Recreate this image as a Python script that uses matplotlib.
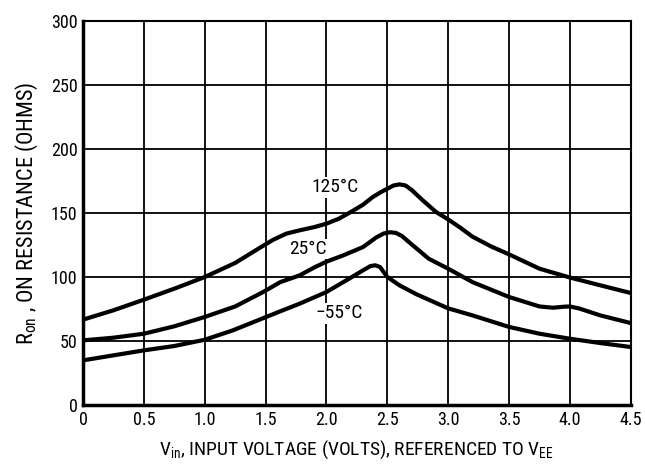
import matplotlib
matplotlib.use("Agg")
import matplotlib.pyplot as plt

# readings from the reference chart
x_125 = [0, 0.25, 0.5, 0.75, 1.0, 1.25, 1.45, 1.56, 1.67, 1.78, 1.9, 2.0, 2.1, 2.2,
         2.3, 2.38, 2.45, 2.5, 2.55, 2.6, 2.65, 2.7, 2.79, 2.9, 3.0, 3.1, 3.2, 3.35,
         3.5, 3.75, 4.0, 4.25, 4.5]
r_125 = [66.7, 74, 82.3, 90.9, 100, 111, 122.7, 129, 133.9, 136.5, 139, 141.7, 145.5,
         150.8, 156.5, 162.5, 166.5, 169, 171.5, 172.4, 171.5, 168, 160, 150.8, 145,
         138.5, 131.5, 124, 117.7, 106.5, 99.6, 93.5, 87.5]

x_25 = [0, 0.25, 0.5, 0.75, 1.0, 1.25, 1.48, 1.62, 1.78, 1.9, 2.0, 2.14, 2.3, 2.41,
        2.47, 2.52, 2.57, 2.62, 2.71, 2.84, 3.0, 3.2, 3.5, 3.75, 3.86, 3.95, 4.0,
        4.08, 4.25, 4.5]
r_25 = [50.5, 52.6, 55.7, 61.5, 68.8, 77, 88.3, 96, 101.3, 107.5, 112, 117, 123.4, 131,
        134, 135, 134.5, 132, 124.7, 114.3, 106.5, 96, 84.4, 77, 76, 76.8, 77,
        75.3, 70, 64]

x_m55 = [0, 0.25, 0.5, 0.75, 1.0, 1.23, 1.45, 1.62, 1.78, 2.0, 2.2, 2.3, 2.36, 2.4,
         2.44, 2.5, 2.6, 2.74, 2.87, 3.0, 3.2, 3.5, 3.75, 4.0, 4.25, 4.5]
r_m55 = [34.9, 38.8, 42.7, 46.1, 51, 58.3, 66.7, 73.2, 79.2, 88.3, 99.5, 105.2, 108.5,
         109.2, 107.8, 100, 93.5, 86.5, 81, 75.5, 70, 61, 55.7, 51.8, 48.4, 45.3]

curve_labels = ["125°C", "25°C", "\u221255°C"]
label_pos = [(2.07, 170), (1.85, 122), (2.1, 71.5)]

x_ticks = [0, 0.5, 1.0, 1.5, 2.0, 2.5, 3.0, 3.5, 4.0, 4.5]
x_tick_labels = ["0", "0.5", "1.0", "1.5", "2.0", "2.5", "3.0", "3.5", "4.0", "4.5"]
y_ticks = [0, 50, 100, 150, 200, 250, 300]

plt.rcParams['font.family'] = ['Roboto Condensed', 'DejaVu Sans']
plt.rcParams['mathtext.fontset'] = 'custom'
plt.rcParams['mathtext.rm'] = 'Roboto Condensed'
plt.rcParams['mathtext.it'] = 'Roboto Condensed'

fig = plt.figure(figsize=(6.45, 4.68), dpi=100)
ax = fig.add_axes([0.1287, 0.1346, 0.978 - 0.1287, 0.955 - 0.1346])

for xs, ys in [(x_125, r_125), (x_25, r_25), (x_m55, r_m55)]:
    ax.plot(xs, ys, color='black', lw=3.0, solid_joinstyle='round',
            solid_capstyle='butt', zorder=3)

for txt, (tx, ty) in zip(curve_labels, label_pos):
    ax.text(tx, ty, txt, ha='center', va='center', fontsize=14, zorder=4,
            bbox=dict(facecolor='white', edgecolor='none', pad=1))

ax.set_xlim(0, 4.5)
ax.set_ylim(0, 300)
ax.set_xticks(x_ticks)
ax.set_xticklabels(x_tick_labels)
ax.set_yticks(y_ticks)
ax.tick_params(length=0, labelsize=13, pad=4)
ax.grid(True, color='black', lw=1.3)
ax.set_axisbelow(True)

for side in ['top', 'right']:
    ax.spines[side].set_linewidth(1.5)
for side in ['left', 'bottom']:
    ax.spines[side].set_linewidth(2.5)

ax.set_xlabel(r'V$_{\mathrm{in}}$, INPUT VOLTAGE (VOLTS), REFERENCED TO V$_{\mathrm{EE}}$',
              fontsize=14, labelpad=7)
ax.set_ylabel(r'R$_{\mathrm{on}}$ , ON RESISTANCE (OHMS)', fontsize=16, labelpad=8)

fig.savefig('out.png', dpi=100)
